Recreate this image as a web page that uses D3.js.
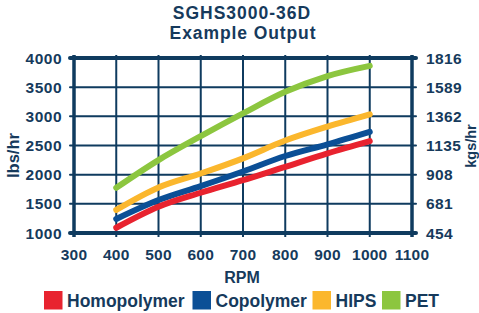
<!DOCTYPE html>
<html><head><meta charset="utf-8">
<script src="https://cdn.jsdelivr.net/npm/d3@7"></script>
<style>
html,body{margin:0;padding:0;background:#fff;}
svg text{font-family:"Liberation Sans",Arial,sans-serif;font-weight:bold;fill:#163a5c;}
</style></head><body>
<svg id="c" width="479" height="313"></svg>
<script>
const rpm = [400, 500, 600, 700, 800, 900, 1000];
const homopolymer = [1090, 1450, 1690, 1905, 2135, 2365, 2575];
const copolymer   = [1240, 1565, 1805, 2055, 2320, 2520, 2735];
const hips        = [1395, 1780, 2020, 2280, 2585, 2825, 3035];
const pet         = [1775, 2250, 2660, 3050, 3420, 3690, 3865];
const seriesNames = ["Homopolymer", "Copolymer", "HIPS", "PET"];
const seriesColors = ["#e8232f", "#0b4f96", "#fbb72d", "#8cc63f"];
const xTicks = [300, 400, 500, 600, 700, 800, 900, 1000, 1100];
const yTicks = [1000, 1500, 2000, 2500, 3000, 3500, 4000];
const kgTicks = ["454", "681", "908", "1135", "1362", "1589", "1816"];

const navy = "#0f3b5f";
const svg = d3.select("#c");
const x = d3.scaleLinear().domain([300, 1100]).range([74, 412]);
const y = d3.scaleLinear().domain([1000, 4000]).range([233, 58]);

// title
svg.append("text").attr("x", 242).attr("y", 19).attr("text-anchor", "middle")
  .style("font-size", "17.5px").style("letter-spacing", "1px").text("SGHS3000-36D");
svg.append("text").attr("x", 243).attr("y", 39).attr("text-anchor", "middle")
  .style("font-size", "17.5px").style("letter-spacing", "0.9px").text("Example Output");

// grid
const g = svg.append("g");
g.selectAll("line.v").data(xTicks).join("line")
  .attr("x1", d => x(d)).attr("x2", d => x(d))
  .attr("y1", y(4000) - 3).attr("y2", y(1000) + 4)
  .attr("stroke", navy).attr("stroke-width", d => (d === 300 || d === 1100) ? 3.5 : 2);
g.selectAll("line.h").data(yTicks).join("line")
  .attr("y1", d => y(d)).attr("y2", d => y(d))
  .attr("x1", x(300) - 4).attr("x2", x(1100) + 4)
  .attr("stroke", navy).attr("stroke-width", d => (d === 1000 || d === 4000) ? 4 : 2)
  .attr("stroke-linecap", "round");

// tick labels
svg.selectAll("text.xt").data(xTicks).join("text")
  .attr("x", d => x(d)).attr("y", 260).attr("text-anchor", "middle")
  .style("font-size", "15.5px").style("letter-spacing", "0.2px").text(d => d);
svg.selectAll("text.yt").data(yTicks).join("text")
  .attr("x", 62).attr("y", d => y(d) + 5.5).attr("text-anchor", "end")
  .style("font-size", "15.5px").style("letter-spacing", "0.5px").text(d => d);
svg.selectAll("text.kt").data(yTicks).join("text")
  .attr("x", 426).attr("y", d => y(d) + 5.5).attr("text-anchor", "start")
  .style("font-size", "15.5px").style("letter-spacing", "0.4px").text((d, i) => kgTicks[i]);

// axis titles
svg.append("text").attr("x", 242).attr("y", 283).attr("text-anchor", "middle")
  .style("font-size", "16px").text("RPM");
svg.append("text").attr("transform", "translate(18.5,155.5) rotate(-90)").attr("text-anchor", "middle")
  .style("font-size", "16.5px").text("lbs/hr");
svg.append("text").attr("transform", "translate(476,146) rotate(-90)").attr("text-anchor", "middle")
  .style("font-size", "14.5px").text("kgs/hr");

// lines
const allSeries = [homopolymer, copolymer, hips, pet];
const line = d3.line().x((d, i) => x(rpm[i])).y(d => y(d)).curve(d3.curveMonotoneX);
[3, 2, 1, 0].forEach(k => {
  svg.append("path").attr("d", line(allSeries[k])).attr("fill", "none")
    .attr("stroke", seriesColors[k]).attr("stroke-width", 6)
    .attr("stroke-linecap", "round").attr("stroke-linejoin", "round");
});

// legend
const legendX = [44, 192.5, 312.5, 382];
const lg = svg.selectAll("g.lg").data(seriesNames).join("g")
  .attr("transform", (d, i) => `translate(${legendX[i]},291)`);
lg.append("rect").attr("width", 18.5).attr("height", 18.5).attr("fill", (d, i) => seriesColors[i]);
lg.append("text").attr("x", 23).attr("y", 15.5).style("font-size", "17.5px").text(d => d);
</script></body></html>
